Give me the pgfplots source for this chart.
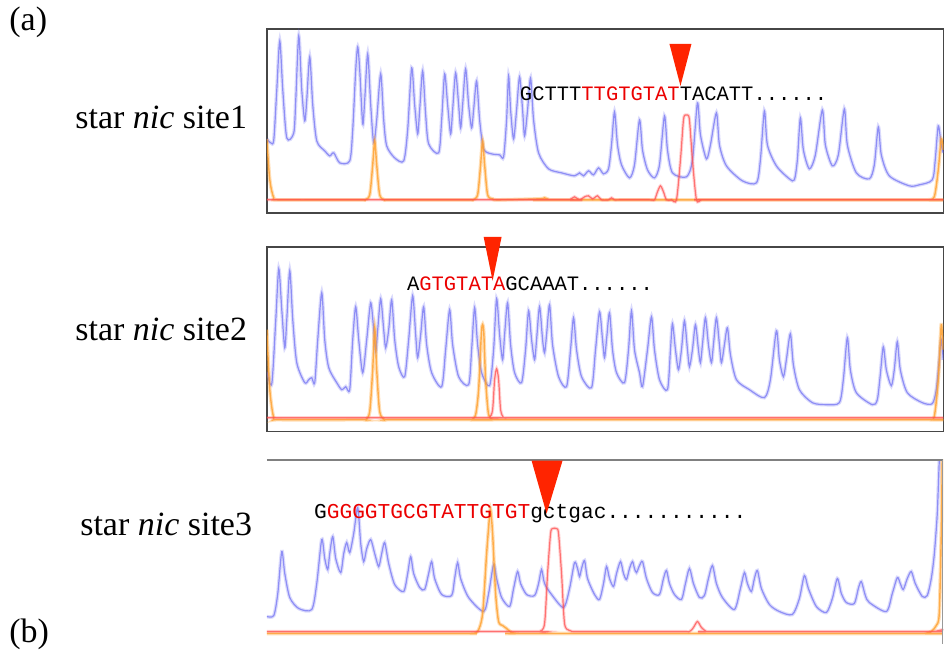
\documentclass[border=0pt]{standalone}
\usepackage{pgfplots}
\pgfplotsset{compat=1.18}
\usepackage{fontspec}
\setmainfont{Liberation Serif}
\newfontfamily\seqfont{Liberation Mono}
\definecolor{tblue}{RGB}{90,90,240}
\definecolor{torange}{RGB}{255,160,45}
\definecolor{tred}{RGB}{255,80,80}
\definecolor{seqred}{RGB}{235,0,0}
\definecolor{arrowred}{RGB}{255,36,0}
\definecolor{frame}{RGB}{70,70,70}
\pgfplotsset{
  chrom/.style={
    scale only axis, width=338.5pt,
    xmin=267, xmax=944,
    xtick=\empty, ytick=\empty,
    axis line style={draw=frame, line width=0.75pt},
    clip=true,
  },
  bl/.style={no marks, smooth, tension=0.45, color=tblue, line width=0.6pt, opacity=0.6,
     preaction={draw=tblue, line width=1.8pt, opacity=0.22}},
  or/.style={no marks, smooth, tension=0.45, color=torange, line width=0.7pt, opacity=0.8,
     preaction={draw=torange, line width=1.8pt, opacity=0.35}},
  rd/.style={no marks, smooth, tension=0.45, color=tred, line width=0.6pt, opacity=0.75,
     preaction={draw=tred, line width=1.6pt, opacity=0.25}},
}
\newcommand{\lab}{\fontsize{17}{20}\selectfont}
\begin{document}
\begin{tikzpicture}
\begin{scope}[x=0.5pt,y=-0.5pt]
\path[use as bounding box] (0,0) rectangle (944,652);
\end{scope}

% ---------------- Panel 1 ----------------
\begin{axis}[chrom, height=92pt, ymin=-13, ymax=171, at={(133.5pt,-106.5pt)}, anchor=south west]
\addplot[bl] coordinates {(267,61)(271,57)(274,60)(277,110)(280,159)(283,110)(287,62)(294,67)(296,100)(299,164)(302,110)(305,79)(307,100)(310,143)(313,95)(317,59)(325,49)(330,44)(334,47)(340,37)(350,39)(353,70)(356,130)(358,153)(360,130)(363,76)(365,100)(368,146)(371,95)(374,57)(377,80)(381,126)(384,80)(387,54)(395,42)(404,39)(408,70)(412,132)(415,95)(418,66)(420,90)(423,129)(426,85)(429,56)(439,47)(442,80)(445,126)(448,95)(451,66)(453,90)(456,127)(459,95)(461,72)(463,95)(466,131)(469,95)(472,72)(474,90)(477,119)(480,80)(484,51)(492,46)(500,45)(504,43)(507,80)(509,124)(511,90)(514,61)(517,90)(520,123)(523,90)(525,64)(528,90)(531,122)(534,80)(539,47)(549,31)(562,27)(575,24)(580,27)(584,24)(589,29)(594,25)(599,32)(604,26)(609,31)(612,55)(615,88)(618,55)(622,35)(630,22)(635,35)(640,80)(643,50)(648,30)(655,22)(660,35)(665,84)(668,50)(673,27)(687,23)(693,40)(698,97)(701,65)(707,41)(711,55)(717,87)(720,55)(727,34)(743,19)(757,17)(761,40)(765,89)(768,55)(777,34)(790,21)(795,20)(798,40)(801,82)(804,50)(810,31)(816,45)(823,90)(826,55)(833,34)(839,45)(845,91)(848,55)(857,27)(870,21)(875,35)(879,73)(882,45)(890,24)(910,14)(920,15)(933,20)(936,40)(939,74)(942,55)(944,47)};
\addplot[or] coordinates {(267,61)(270,20)(274,2)(280,0)(360,0)(365,0)(370,5)(373,35)(375,59)(377,35)(380,5)(385,0)(390,0)(468,0)(473,0)(478,5)(481,35)(483,59)(485,35)(488,5)(493,1)(498,0)(540,1)(545,2)(550,0)(555,0)(922,0)(928,0)(935,3)(939,30)(942,61)(944,50)};
\addplot[rd] coordinates {(267,0)(565,0)(570,0)(575,3)(580,0)(585,3)(589,4)(593,1)(598,4)(602,0)(609,0)(612,2)(615,0)(620,0)(650,0)(655,0)(658,8)(661,14)(664,8)(667,0)(672,0)(677,0)(681,40)(684,80)(686,85)(688,85)(690,80)(693,40)(697,0)(702,0)(710,0)(944,0)};
\end{axis}

% ---------------- Panel 2 ----------------
\begin{axis}[chrom, height=92.5pt, ymin=-12, ymax=173, at={(133.5pt,-216pt)}, anchor=south west]
\addplot[bl] coordinates {(267,48)(272,36)(276,100)(279,151)(282,110)(285,72)(287,100)(290,149)(293,100)(297,57)(305,37)(309,40)(312,42)(315,37)(318,80)(322,127)(325,80)(329,52)(337,37)(342,30)(346,33)(350,30)(353,80)(356,113)(359,80)(363,47)(367,80)(371,117)(374,90)(376,68)(378,90)(381,121)(384,90)(386,72)(389,90)(392,120)(395,80)(399,53)(405,43)(409,80)(413,124)(416,85)(418,62)(421,85)(424,113)(427,75)(432,47)(442,33)(446,70)(450,110)(453,75)(459,43)(469,35)(472,70)(475,112)(478,75)(482,47)(490,34)(494,70)(497,121)(500,85)(503,60)(505,85)(508,117)(511,75)(515,47)(522,37)(526,70)(529,109)(532,80)(535,60)(537,80)(540,113)(543,80)(545,67)(547,85)(550,115)(553,75)(559,43)(567,33)(571,70)(574,102)(577,70)(582,43)(592,32)(596,70)(600,108)(603,80)(605,62)(607,80)(610,107)(613,70)(617,47)(625,37)(629,70)(632,109)(635,70)(640,47)(643,33)(648,70)(652,103)(655,70)(660,40)(668,30)(671,70)(673,96)(676,70)(679,50)(682,70)(685,99)(688,70)(690,53)(693,70)(696,95)(699,70)(701,57)(703,75)(706,102)(709,75)(712,57)(714,75)(717,102)(720,75)(722,57)(725,75)(728,92)(731,65)(737,40)(750,30)(765,22)(771,40)(777,89)(780,60)(784,43)(787,60)(791,86)(794,55)(800,30)(813,17)(827,15)(840,17)(844,40)(848,82)(851,50)(857,27)(873,15)(878,20)(881,45)(884,73)(887,50)(892,34)(895,50)(898,78)(901,50)(908,27)(923,17)(933,16)(937,30)(940,60)(942,80)(944,60)};
\addplot[or] coordinates {(267,90)(270,30)(274,2)(280,0)(361,0)(366,0)(370,8)(373,50)(375,92)(377,50)(380,8)(385,0)(390,0)(467,0)(472,0)(476,5)(479,30)(482,90)(484,90)(486,40)(489,5)(494,0)(499,0)(925,0)(930,0)(935,3)(939,40)(942,95)(944,70)};
\addplot[rd] coordinates {(267,2)(485,2)(490,2)(493,10)(495,40)(497,51)(499,40)(501,10)(504,2)(508,2)(515,2)(944,2)};
\end{axis}

% ---------------- Panel 3 ----------------
\begin{axis}[chrom, height=92.5pt, ymin=-11, ymax=174, at={(133.5pt,-322.5pt)}, anchor=south west,
  axis line style={draw=none}]
\addplot[bl] coordinates {(267,17)(274,18)(278,40)(282,82)(285,60)(290,36)(299,25)(312,24)(317,50)(322,94)(325,75)(328,64)(330,80)(333,97)(336,75)(341,61)(344,80)(347,91)(350,81)(354,100)(358,126)(361,90)(364,72)(367,85)(371,94)(375,80)(379,67)(382,80)(385,91)(389,70)(395,49)(404,42)(408,60)(411,77)(414,60)(420,46)(425,44)(429,60)(432,72)(435,55)(442,39)(452,38)(455,55)(458,71)(461,55)(469,36)(484,22)(489,40)(494,69)(497,55)(502,36)(510,27)(514,45)(518,62)(521,50)(527,39)(535,38)(539,50)(542,64)(545,50)(552,39)(564,26)(570,45)(575,71)(578,65)(580,57)(582,65)(585,73)(588,55)(595,39)(600,34)(604,50)(607,67)(610,55)(614,47)(617,60)(621,72)(624,60)(627,54)(630,65)(633,72)(635,65)(637,61)(640,68)(643,72)(647,55)(653,41)(660,39)(664,55)(667,63)(670,50)(675,39)(682,34)(686,50)(690,65)(694,50)(700,36)(705,38)(709,55)(713,68)(717,50)(723,36)(735,24)(741,45)(745,61)(748,50)(752,42)(755,55)(758,63)(762,45)(770,29)(780,22)(793,19)(800,35)(805,58)(809,45)(817,27)(827,21)(833,35)(838,55)(842,40)(847,31)(855,30)(859,45)(862,52)(866,38)(870,31)(887,22)(893,40)(898,56)(901,50)(904,44)(908,55)(912,62)(916,50)(923,37)(928,38)(932,55)(935,79)(938,120)(940,172)(941,176)};
\addplot[or] coordinates {(267,0)(465,0)(470,0)(478,2)(483,20)(487,80)(490,118)(491,124)(493,100)(496,40)(499,12)(503,8)(507,5)(512,1)(520,0)(530,0)(920,0)(925,0)(932,2)(937,8)(940,20)(942,100)(943,176)};
\addplot[rd] coordinates {(267,2)(530,2)(540,2)(545,10)(548,60)(551,100)(553,105)(557,105)(559,100)(562,60)(565,10)(570,3)(575,2)(585,2)(680,2)(690,2)(694,6)(698,12)(702,6)(707,2)(712,2)(930,2)(935,2)(944,4)};
\draw[gray, line width=1pt] (rel axis cs:0,1) -- (rel axis cs:1,1);
\draw[gray!80, line width=0.6pt] (axis cs:943,174) -- (axis cs:943,-11);
\end{axis}

% ---------------- annotations ----------------
\begin{scope}[x=0.5pt,y=-0.5pt]
\node[anchor=west, inner sep=0, font=\lab] at (9,22) {(a)};
\node[anchor=west, inner sep=0, font=\lab] at (9,635) {(b)};
\node[anchor=west, inner sep=0, font=\lab] at (75,118) {star \textit{nic} site1};
\node[anchor=west, inner sep=0, font=\lab] at (75,330) {star \textit{nic} site2};
\node[anchor=west, inner sep=0, font=\lab] at (80,525) {star \textit{nic} site3};
\node[anchor=west, inner sep=0, font=\seqfont\fontsize{10.25}{12}\selectfont] at (520,94) {GCTTT\textcolor{seqred}{TTGTGTAT}TACATT......};
\node[anchor=west, inner sep=0, font=\seqfont\fontsize{10.25}{12}\selectfont] at (407,284) {A\textcolor{seqred}{GTGTATA}GCAAAT......};
\node[anchor=west, inner sep=0, font=\seqfont\fontsize{10.6}{12}\selectfont] at (314,514) {G\textcolor{seqred}{GGGGTGCGTATTGTGT}gctgac...........};
\fill[arrowred] (670,44) -- (692,44) -- (681,86) -- cycle;
\fill[arrowred] (484,237) -- (502,237) -- (493,281) -- cycle;
\fill[arrowred] (532,461) -- (563,461) -- (547,514) -- cycle;
\end{scope}
\end{tikzpicture}
\end{document}
